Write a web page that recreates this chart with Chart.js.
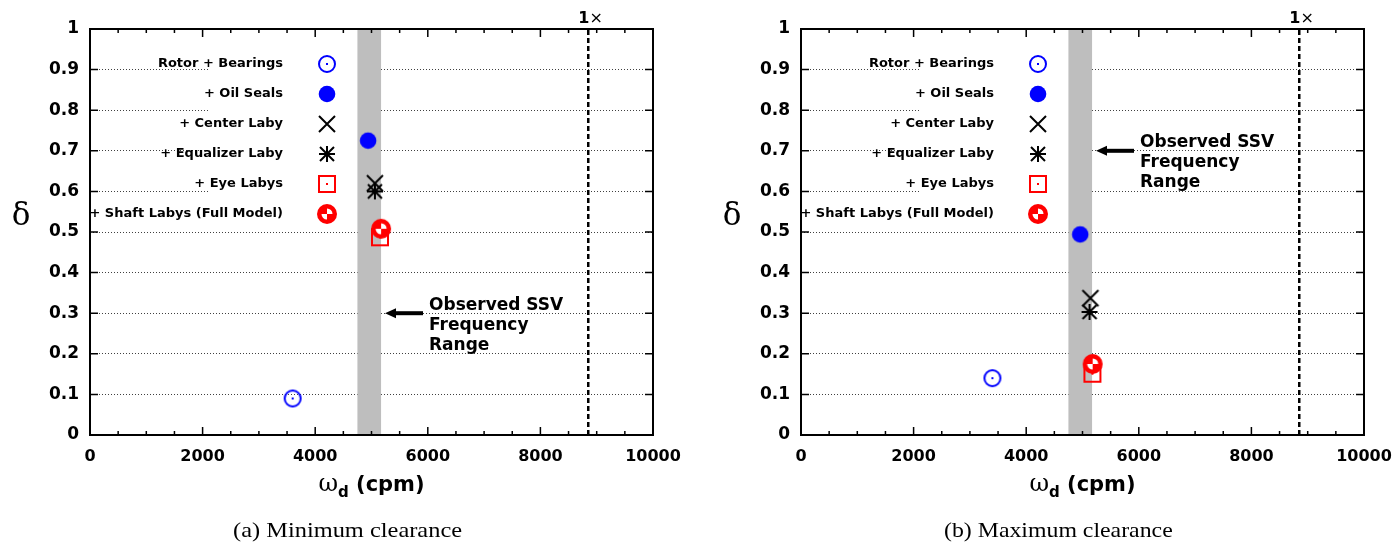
<!DOCTYPE html>
<html>
<head>
<meta charset="utf-8">
<script src="https://cdn.jsdelivr.net/npm/chart.js@4.4.1/dist/chart.umd.min.js"></script>
<style>
    html, body { margin: 0; padding: 0; background: #fff; overflow: hidden; width: 1393px; height: 542px; position: relative; }
    canvas { position: absolute; top: 0; }
    #left { left: 0; }
    #right { left: 711px; }
    .caption { position: absolute; top: 520px; font: 21px "Liberation Serif", serif; line-height: 21px; white-space: nowrap; transform-origin: 0 0; color: #000; }
</style>
</head>
<body>
<canvas id="left" width="696" height="542"></canvas>
<canvas id="right" width="696" height="542"></canvas>
<div class="caption" id="capA"></div>
<div class="caption" id="capB"></div>
<script>
// data
const seriesLabels = ['Rotor + Bearings', '+ Oil Seals', '+ Center Laby', '+ Equalizer Laby', '+ Eye Labys', '+ Shaft Labys (Full Model)'];
const minClearFreq = [3600, 4940, 5060, 5060, 5150, 5170];
const minClearLogDec = [0.09, 0.725, 0.62, 0.60, 0.487, 0.508];
const maxClearFreq = [3400, 4960, 5140, 5125, 5176, 5180];
const maxClearLogDec = [0.14, 0.494, 0.337, 0.303, 0.151, 0.175];
const ssvBand = [4750, 5170];
const runningSpeed = 8850;
const arrowX = [5240, 5915]; // tip, tail
const arrowY = [0.30, 0.70];
const noteLines = ['Observed SSV', 'Frequency', 'Range'];
const xTickLabels = ['0', '2000', '4000', '6000', '8000', '10000'];
const yTickLabels = ['0', '0.1', '0.2', '0.3', '0.4', '0.5', '0.6', '0.7', '0.8', '0.9', '1'];
const panelCaptions = ['(a) Minimum clearance', '(b) Maximum clearance'];

const BLUE = '#0000ff';
const RED = '#ff0000';

function mk(draw) {
    const c = document.createElement('canvas');
    c.width = 26; c.height = 26;
    const g = c.getContext('2d');
    g.translate(13, 13);
    draw(g);
    return c;
}

const markers = [
    mk(g => { g.strokeStyle = BLUE; g.lineWidth = 2; g.beginPath(); g.arc(0, 0, 8, 0, 2 * Math.PI); g.stroke(); g.fillStyle = BLUE; g.fillRect(-1, -1, 2, 2); }),
    mk(g => { g.fillStyle = BLUE; g.beginPath(); g.arc(0, 0, 8.3, 0, 2 * Math.PI); g.fill(); }),
    mk(g => { g.strokeStyle = '#000'; g.lineWidth = 2; g.beginPath(); g.moveTo(-8, -8); g.lineTo(8, 8); g.moveTo(8, -8); g.lineTo(-8, 8); g.stroke(); }),
    mk(g => {
        g.strokeStyle = '#000'; g.lineWidth = 2; g.beginPath();
        g.moveTo(-7, -7); g.lineTo(7, 7); g.moveTo(7, -7); g.lineTo(-7, 7);
        g.moveTo(-8, 0); g.lineTo(8, 0); g.moveTo(0, -8); g.lineTo(0, 8);
        g.stroke();
    }),
    mk(g => { g.strokeStyle = RED; g.lineWidth = 2; g.strokeRect(-8, -8, 16, 16); g.fillStyle = RED; g.fillRect(-1, -1, 2, 2); }),
    mk(g => {
        g.fillStyle = RED; g.beginPath(); g.arc(0, 0, 10, 0, 2 * Math.PI); g.fill();
        g.fillStyle = '#fff';
        g.beginPath(); g.moveTo(0, 0); g.arc(0, 0, 5.5, -Math.PI / 2, 0); g.closePath(); g.fill();
        g.beginPath(); g.moveTo(0, 0); g.arc(0, 0, 5.5, Math.PI / 2, Math.PI); g.closePath(); g.fill();
    })
];

function panelPlugin(arrowLevel) {
    return {
        id: 'panel',
        beforeDatasetsDraw(chart) {
            const { ctx, chartArea: a, scales: { x } } = chart;
            ctx.save();
            // opaque key box (hides grid behind the key)
            ctx.fillStyle = '#fff';
            ctx.fillRect(a.left + 120, a.top + 11, 162, 187);
            // observed SSV frequency band
            ctx.fillStyle = '#bebebe';
            const b0 = x.getPixelForValue(ssvBand[0]);
            const b1 = x.getPixelForValue(ssvBand[1]);
            ctx.fillRect(b0, a.top, b1 - b0, a.bottom - a.top);
            // 1x running speed
            const sx = x.getPixelForValue(runningSpeed);
            ctx.strokeStyle = '#000';
            ctx.lineWidth = 2.5;
            ctx.setLineDash([5, 3]);
            ctx.beginPath();
            ctx.moveTo(sx, a.bottom);
            ctx.lineTo(sx, a.top);
            ctx.stroke();
            ctx.restore();
        },
        afterDraw(chart) {
            const { ctx, chartArea: a, scales: { x, y } } = chart;
            ctx.save();
            ctx.setLineDash([]);
            ctx.strokeStyle = '#000';
            ctx.fillStyle = '#000';

            // frame + inward ticks
            ctx.lineWidth = 2;
            ctx.strokeRect(a.left, a.top, a.right - a.left, a.bottom - a.top);
            ctx.lineWidth = 1.5;
            ctx.beginPath();
            y.ticks.forEach(t => {
                const py = y.getPixelForValue(t.value);
                ctx.moveTo(a.left, py); ctx.lineTo(a.left + 8, py);
                ctx.moveTo(a.right, py); ctx.lineTo(a.right - 8, py);
            });
            for (let v = x.min; v <= x.max; v += 500) {
                const px = x.getPixelForValue(v);
                const len = v % 2000 === 0 ? 8 : 4;
                ctx.moveTo(px, a.bottom); ctx.lineTo(px, a.bottom - len);
                ctx.moveTo(px, a.top); ctx.lineTo(px, a.top + len);
            }
            ctx.stroke();

            // key
            ctx.font = 'bold 13px "DejaVu Sans"';
            ctx.textAlign = 'right';
            ctx.textBaseline = 'middle';
            seriesLabels.forEach((lab, i) => {
                const ly = a.top + 35 + 30 * i;
                ctx.fillText(lab, a.left + 193, ly);
                const m = markers[i];
                ctx.drawImage(m, a.left + 237 - m.width / 2, ly - m.height / 2);
            });

            // arrow + note
            const ay = y.getPixelForValue(arrowLevel);
            const tip = x.getPixelForValue(arrowX[0]);
            const tail = x.getPixelForValue(arrowX[1]);
            ctx.lineWidth = 4;
            ctx.beginPath();
            ctx.moveTo(tail, ay);
            ctx.lineTo(tip + 8, ay);
            ctx.stroke();
            ctx.beginPath();
            ctx.moveTo(tip, ay);
            ctx.lineTo(tip + 11, ay - 5);
            ctx.lineTo(tip + 11, ay + 5);
            ctx.closePath();
            ctx.fill();
            ctx.font = 'bold 17px "DejaVu Sans"';
            ctx.textAlign = 'left';
            noteLines.forEach((s, i) => ctx.fillText(s, tail + 6, ay - 8 + 20 * i));

            // 1x label
            const sx = x.getPixelForValue(runningSpeed);
            ctx.textBaseline = 'alphabetic';
            ctx.font = 'bold 16px "DejaVu Sans"';
            ctx.fillText('1', sx - 10, 23);
            const w1 = ctx.measureText('1').width;
            ctx.font = '16px "DejaVu Sans"';
            ctx.fillText('\u00d7', sx - 10 + w1, 23);

            // axis titles
            ctx.textAlign = 'center';
            ctx.font = '31px "DejaVu Serif"';
            ctx.fillText('\u03b4', 21, 225);

            ctx.textAlign = 'left';
            const fOmega = '24px "DejaVu Serif"';
            const fSub = 'bold 15px "DejaVu Sans"';
            const fRest = 'bold 21px "DejaVu Sans"';
            ctx.font = fOmega; const wo = ctx.measureText('\u03c9').width;
            ctx.font = fSub; const wd = ctx.measureText('d').width;
            ctx.font = fRest; const wr = ctx.measureText(' (cpm)').width;
            let tx = (a.left + a.right) / 2 - (wo + wd + wr) / 2;
            ctx.font = fOmega; ctx.fillText('\u03c9', tx, 491); tx += wo;
            ctx.font = fSub; ctx.fillText('d', tx, 497); tx += wd;
            ctx.font = fRest; ctx.fillText(' (cpm)', tx, 491);
            ctx.restore();
        }
    };
}

function makePanel(id, freq, logDec, arrowLevel) {
    const canvas = document.getElementById(id);
    const datasets = seriesLabels.map((lab, i) => ({
        label: lab,
        data: [{ x: freq[i], y: logDec[i] }],
        pointStyle: markers[i],
        pointRadius: 10,
        order: seriesLabels.length - i
    }));
    return new Chart(canvas, {
        type: 'scatter',
        data: { datasets },
        options: {
            responsive: false,
            animation: false,
            devicePixelRatio: 1,
            layout: { autoPadding: false, padding: { left: 0, top: 29, right: 43, bottom: 0 } },
            plugins: { legend: { display: false }, tooltip: { enabled: false } },
            scales: {
                x: {
                    type: 'linear', min: 0, max: 10000,
                    afterFit: s => { s.height = 107; },
                    grid: { display: false, drawTicks: false },
                    border: { display: false },
                    ticks: {
                        stepSize: 2000, padding: 12, color: '#000',
                        font: { family: 'DejaVu Sans', weight: 'bold', size: 16 },
                        callback: (v, i) => xTickLabels[i]
                    }
                },
                y: {
                    type: 'linear', min: 0, max: 1,
                    afterFit: s => { s.width = 90; },
                    grid: { color: '#404040', lineWidth: 1, drawTicks: false },
                    border: { display: false, dash: [1, 2] },
                    ticks: {
                        stepSize: 0.1, padding: 11, color: '#000',
                        font: { family: 'DejaVu Sans', weight: 'bold', size: 17 },
                        callback: (v, i) => yTickLabels[i]
                    }
                }
            }
        },
        plugins: [panelPlugin(arrowLevel)]
    });
}

makePanel('left', minClearFreq, minClearLogDec, arrowY[0]);
makePanel('right', maxClearFreq, maxClearLogDec, arrowY[1]);

// captions under each panel
[['capA', 347.5], ['capB', 1058]].forEach(([id, cx], i) => {
    const el = document.getElementById(id);
    el.textContent = panelCaptions[i];
    const w = el.offsetWidth;
    const s = 229 / w;
    el.style.left = (cx - 229 / 2) + 'px';
    el.style.transform = 'scaleX(' + s + ')';
});
</script>
</body>
</html>
